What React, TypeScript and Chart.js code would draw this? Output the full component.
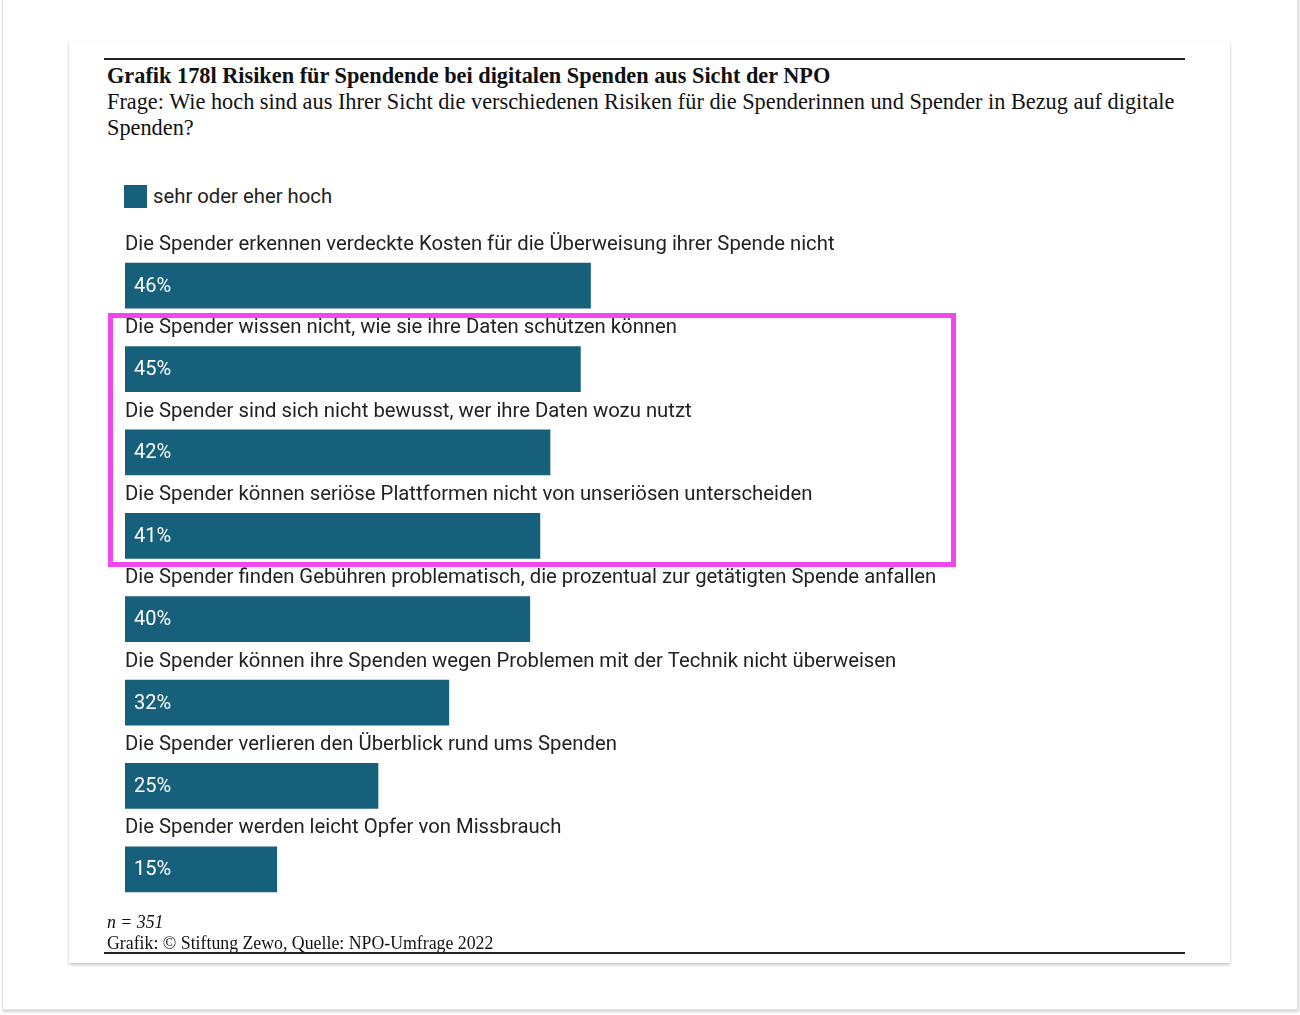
import React, { useEffect, useRef } from "react";
import { Chart, ChartConfiguration, Plugin, registerables } from "chart.js";

Chart.register(...registerables);

const categories: string[] = [
  "Die Spender erkennen verdeckte Kosten für die Überweisung ihrer Spende nicht",
  "Die Spender wissen nicht, wie sie ihre Daten schützen können",
  "Die Spender sind sich nicht bewusst, wer ihre Daten wozu nutzt",
  "Die Spender können seriöse Plattformen nicht von unseriösen unterscheiden",
  "Die Spender finden Gebühren problematisch, die prozentual zur getätigten Spende anfallen",
  "Die Spender können ihre Spenden wegen Problemen mit der Technik nicht überweisen",
  "Die Spender verlieren den Überblick rund ums Spenden",
  "Die Spender werden leicht Opfer von Missbrauch",
];

const highValues: number[] = [46, 45, 42, 41, 40, 32, 25, 15];

const seriesLabel = "sehr oder eher hoch";
const barColor = "#17607b";

const barLabels: Plugin<"bar"> = {
  id: "barLabels",
  afterDatasetsDraw(chart) {
    const ctx = chart.ctx;
    const meta = chart.getDatasetMeta(0);
    ctx.save();
    meta.data.forEach((el: any, i: number) => {
      const top = el.y - el.height / 2;
      ctx.font = "20.3px Roboto";
      ctx.fillStyle = "#222222";
      ctx.textAlign = "left";
      ctx.textBaseline = "middle";
      ctx.fillText(categories[i], el.base, top - 18.5);
      ctx.font = "20px Roboto";
      ctx.fillStyle = "#ffffff";
      ctx.fillText(highValues[i] + "%", el.base + 9, el.y + 1);
    });
    ctx.restore();
  },
};

const RiskChart: React.FC = () => {
  const chartRef = useRef<HTMLCanvasElement | null>(null);
  const chartInstance = useRef<Chart | null>(null);

  useEffect(() => {
    if (!chartRef.current) return;
    if (chartInstance.current) chartInstance.current.destroy();

    const config: ChartConfiguration<"bar"> = {
      type: "bar",
      data: {
        labels: categories,
        datasets: [
          {
            label: seriesLabel,
            data: highValues,
            backgroundColor: barColor,
            borderWidth: 0,
            barThickness: 45,
          },
        ],
      },
      options: {
        indexAxis: "y",
        responsive: true,
        maintainAspectRatio: false,
        animation: false,
        layout: { padding: { left: 21, right: 48, top: 29, bottom: 14 } },
        plugins: {
          legend: { display: false },
          tooltip: { enabled: false },
        },
        scales: {
          x: { display: false, min: 0, max: 100 },
          y: { display: false },
        },
      },
      plugins: [barLabels],
    };

    chartInstance.current = new Chart(chartRef.current, config);
    return () => {
      if (chartInstance.current) {
        chartInstance.current.destroy();
        chartInstance.current = null;
      }
    };
  }, []);

  return <canvas ref={chartRef}></canvas>;
};

const serif = "'Liberation Serif', 'Times New Roman', serif";

const App: React.FC = () => {
  return (
    <div style={{ position: "absolute", left: 0, top: 0, width: 1300, height: 1015, background: "#fff", overflow: "hidden" }}>
      {/* outer page frame */}
      <div
        style={{
          position: "absolute",
          left: 2,
          top: -4,
          width: 1294,
          height: 1012,
          border: "1px solid #e4e4e4",
          boxShadow: "1px 2px 3px rgba(0,0,0,0.18)",
          background: "#fff",
        }}
      />
      {/* card */}
      <div
        style={{
          position: "absolute",
          left: 69,
          top: 42,
          width: 1161,
          height: 921,
          background: "#fff",
          boxShadow: "0px 2px 3px rgba(0,0,0,0.22), 0 0 1px rgba(0,0,0,0.12)",
        }}
      />
      <div style={{ position: "absolute", left: 104, top: 58, width: 1081, height: 2, background: "#222" }} />
      <div style={{ position: "absolute", left: 107, top: 63, fontFamily: serif, fontSize: 22.3, lineHeight: "26px", color: "#111" }}>
        <div style={{ fontWeight: "bold" }}>Grafik 178l Risiken für Spendende bei digitalen Spenden aus Sicht der NPO</div>
        <div>
          Frage: Wie hoch sind aus Ihrer Sicht die verschiedenen Risiken für die Spenderinnen und Spender in Bezug auf digitale
          <br />
          Spenden?
        </div>
      </div>
      {/* legend */}
      <div style={{ position: "absolute", left: 124, top: 185, width: 23, height: 23, background: barColor }} />
      <div style={{ position: "absolute", left: 153, top: 183, fontFamily: "Roboto", fontSize: 20.3, lineHeight: "26px", color: "#222" }}>
        {seriesLabel}
      </div>
      <div style={{ position: "absolute", left: 104, top: 215, width: 1081, height: 710 }}>
        <RiskChart />
      </div>
      {/* highlight box */}
      <div
        style={{
          position: "absolute",
          left: 108,
          top: 313,
          width: 838,
          height: 244,
          border: "5px solid #f048ee",
        }}
      />
      <div style={{ position: "absolute", left: 107, top: 912, fontFamily: serif, fontSize: 17.8, lineHeight: "21px", color: "#111" }}>
        <div style={{ fontStyle: "italic" }}>n = 351</div>
        <div>Grafik: © Stiftung Zewo, Quelle: NPO-Umfrage 2022</div>
      </div>
      <div style={{ position: "absolute", left: 104, top: 952, width: 1081, height: 2, background: "#222" }} />
    </div>
  );
};

export default App;
